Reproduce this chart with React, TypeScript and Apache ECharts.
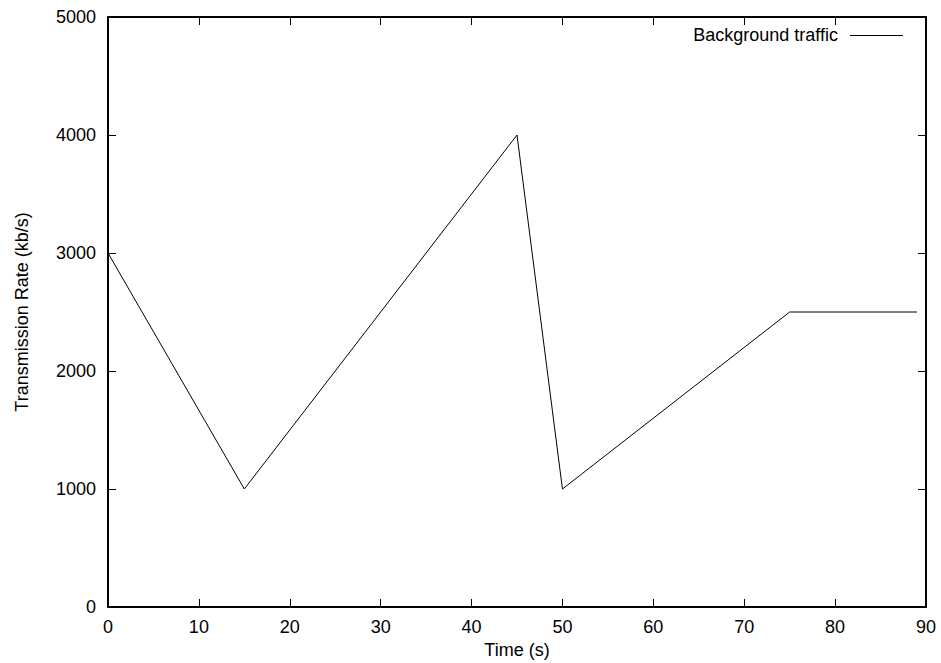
import React, { useEffect, useRef } from "react";
import * as echarts from "echarts";

const timeSeconds = [0, 15, 45, 50, 75, 89];
const rateKbps = [3000, 1000, 4000, 1000, 2500, 2500];
const seriesName = "Background traffic";
const xTitle = "Time (s)";
const yTitle = "Transmission Rate (kb/s)";

const FONT = "'Liberation Sans', Arial, Helvetica, sans-serif";

export default function App() {
  const ref = useRef<HTMLDivElement>(null);
  useEffect(() => {
    if (!ref.current) return;
    const chart = echarts.init(ref.current, null, { renderer: "svg" });
    const axisLine = { show: true, onZero: false, lineStyle: { color: "#000", width: 2 } };
    const tick = { show: true, inside: true, length: 8, lineStyle: { color: "#000", width: 1 } };
    const label = { color: "#000", fontSize: 18, fontFamily: FONT };
    chart.setOption({
      animation: false,
      backgroundColor: "#fff",
      grid: { left: 108, top: 17, right: 15, bottom: 56, containLabel: false, outerBoundsMode: "none" },
      xAxis: [
        {
          type: "value",
          min: 0,
          max: 90,
          interval: 10,
          position: "bottom",
          axisLine,
          axisTick: tick,
          splitLine: { show: false },
          axisLabel: { ...label, margin: 11, formatter: (v: number) => String(v) },
          name: xTitle,
          nameLocation: "middle",
          nameGap: 32,
          nameTextStyle: { ...label },
        },
        {
          type: "value",
          min: 0,
          max: 90,
          interval: 10,
          position: "top",
          axisLine,
          axisTick: tick,
          splitLine: { show: false },
          axisLabel: { show: false },
        },
      ],
      yAxis: [
        {
          type: "value",
          min: 0,
          max: 5000,
          interval: 1000,
          position: "left",
          axisLine,
          axisTick: tick,
          splitLine: { show: false },
          axisLabel: { ...label, margin: 12, formatter: (v: number) => String(v) },
          name: yTitle,
          nameLocation: "middle",
          nameGap: 77,
          nameTextStyle: { ...label },
        },
        {
          type: "value",
          min: 0,
          max: 5000,
          interval: 1000,
          position: "right",
          axisLine,
          axisTick: tick,
          splitLine: { show: false },
          axisLabel: { show: false },
        },
      ],
      series: [
        {
          name: seriesName,
          type: "line",
          xAxisIndex: 0,
          yAxisIndex: 0,
          data: timeSeconds.map((t, i) => [t, rateKbps[i]]),
          showSymbol: false,
          symbol: "none",
          lineStyle: { color: "#000", width: 1 },
          itemStyle: { color: "#000" },
        },
      ],
      graphic: [
        {
          type: "text",
          x: 838,
          y: 35,
          style: {
            text: seriesName,
            align: "right",
            verticalAlign: "middle",
            fill: "#000",
            fontSize: 18,
            fontFamily: FONT,
          },
        },
        {
          type: "line",
          shape: { x1: 850, y1: 35.5, x2: 903, y2: 35.5 },
          style: { stroke: "#000", lineWidth: 1 },
        },
      ],
    });
    return () => chart.dispose();
  }, []);
  return <div ref={ref} style={{ width: 941, height: 663, position: "absolute", left: 0, top: 0 }} />;
}
